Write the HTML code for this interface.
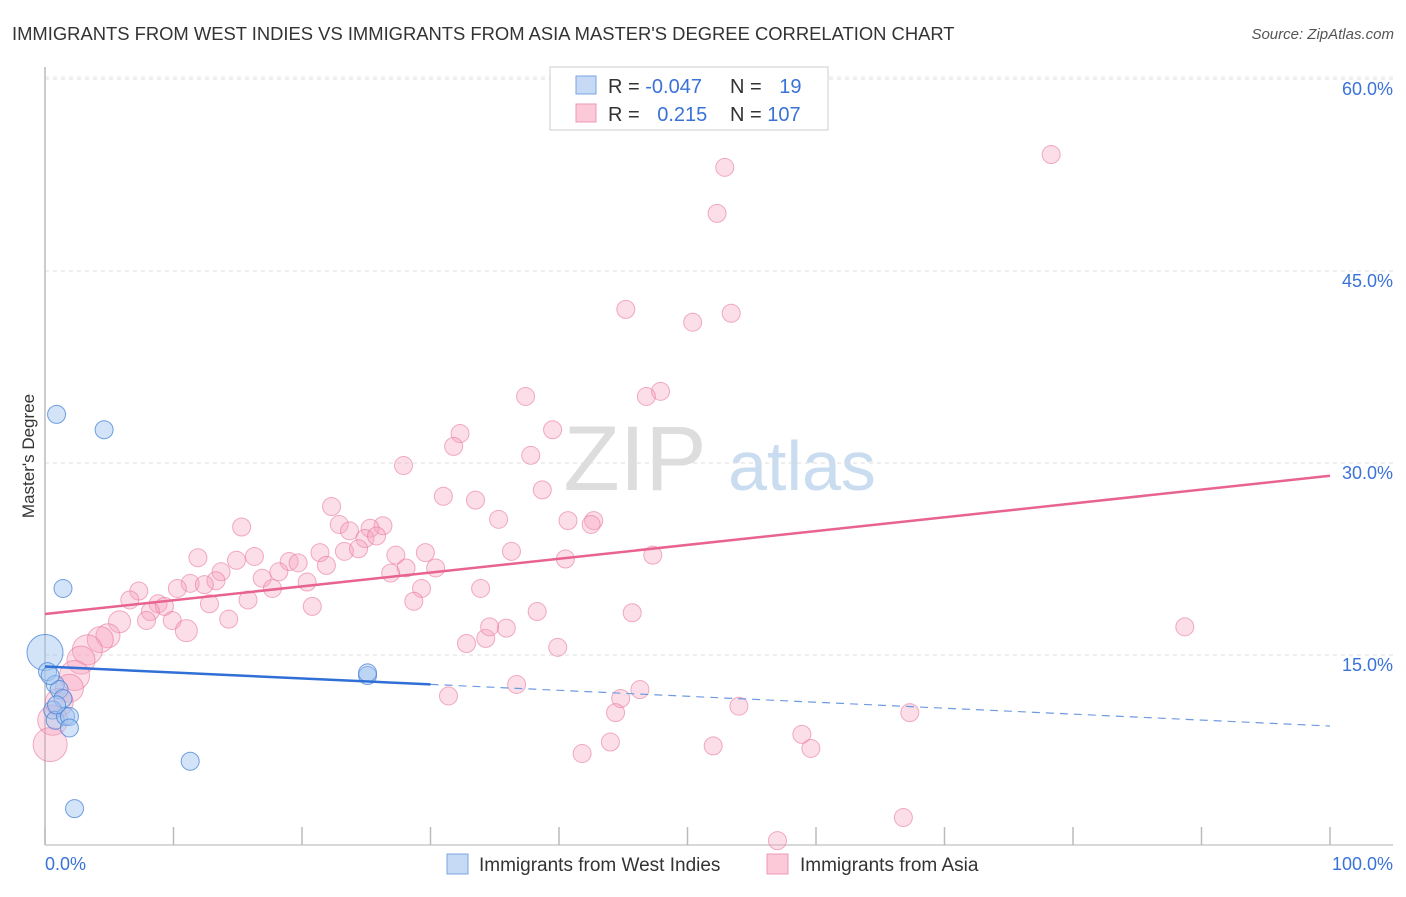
<!DOCTYPE html>
<html><head><meta charset="utf-8"><style>
body{margin:0;background:#fff;font-family:"Liberation Sans",sans-serif;}
svg text{font-family:"Liberation Sans",sans-serif;}
</style></head><body>
<svg width="1406" height="892" viewBox="0 0 1406 892" id="chart">
<text x="12" y="40" font-size="18.4" fill="#333">IMMIGRANTS FROM WEST INDIES VS IMMIGRANTS FROM ASIA MASTER'S DEGREE CORRELATION CHART</text>
<text x="1394" y="39" font-size="15" fill="#555" text-anchor="end" font-style="italic">Source: ZipAtlas.com</text>
<text x="34" y="456" font-size="17" fill="#333" text-anchor="middle" transform="rotate(-90 34 456)">Master's Degree</text>
<g><text x="635" y="490" font-size="92" fill="#ddd" font-family="Liberation Serif" text-anchor="middle">ZIP</text><text x="802" y="490" font-size="70" fill="#c9dcf0" text-anchor="middle">atlas</text></g>
<g id="grid"></g><g id="axes"></g><g id="pts"></g><g id="trend"></g>
<g>
<rect x="550" y="67" width="278" height="63" fill="#fff" stroke="#ccc"/>
<rect x="576" y="76" width="20" height="18" fill="#c6daf6" stroke="#7aa5e0"/>
<rect x="576" y="104" width="20" height="18" fill="#fbc9d8" stroke="#ef9ab5"/>
<text x="608" y="93" font-size="20" fill="#333">R = <tspan fill="#3a72d8">-0.047</tspan></text>
<text x="730" y="93" font-size="20" fill="#333">N = <tspan fill="#3a72d8" dx="12">19</tspan></text>
<text x="608" y="121" font-size="20" fill="#333">R = <tspan fill="#3a72d8" dx="12">0.215</tspan></text>
<text x="730" y="121" font-size="20" fill="#333">N = <tspan fill="#3a72d8">107</tspan></text>
</g>
<g>
<rect x="447" y="854" width="21" height="20" fill="#c6daf6" stroke="#7aa5e0"/>
<text x="479" y="871" font-size="19" fill="#333">Immigrants from West Indies</text>
<rect x="767" y="854" width="21" height="20" fill="#fbc9d8" stroke="#ef9ab5"/>
<text x="800" y="871" font-size="19" fill="#333">Immigrants from Asia</text>
</g>
</svg>
<script>
const yTicks=[15,30,45,60];
const yTickLabels=["15.0%","30.0%","45.0%","60.0%"];
const xTickLabels=["0.0%","100.0%"];
const asiaX=[78.3,52.9,52.3,45.2,50.4,53.4,47.9,46.8,37.4,32.3,31.8,39.5,37.8,27.9,38.7,31.0,33.5,22.3,35.3,40.7,42.7,42.5,15.3,22.9,23.7,26.3,25.3,24.9,25.8,36.3,40.5,47.3,11.9,14.9,16.3,21.4,23.3,24.4,27.3,29.6,19.0,19.7,28.1,30.4,13.7,18.2,26.9,21.9,16.9,17.7,13.3,11.3,12.4,10.3,7.3,6.6,8.8,9.3,12.8,15.8,20.4,29.3,28.7,33.9,20.8,38.3,45.7,8.2,7.9,14.3,9.9,5.8,11.0,4.9,4.3,3.3,2.8,2.3,1.9,1.1,0.6,0.4,32.8,34.3,35.9,34.6,39.9,36.7,44.8,46.3,31.4,44.4,54.0,67.3,44.0,52.0,58.9,59.6,41.8,88.7,66.8,57.0];
const asiaY=[54.1,53.1,49.5,42.0,41.0,41.7,35.6,35.2,35.2,32.3,31.3,32.6,30.6,29.8,27.9,27.4,27.1,26.6,25.6,25.5,25.5,25.2,25.0,25.2,24.7,25.1,24.9,24.1,24.3,23.1,22.5,22.8,22.6,22.4,22.7,23.0,23.1,23.3,22.8,23.0,22.3,22.2,21.8,21.8,21.5,21.5,21.4,22.0,21.0,20.2,20.8,20.6,20.5,20.2,20.0,19.3,19.0,18.8,19.0,19.3,20.7,20.2,19.2,20.2,18.8,18.4,18.3,18.4,17.7,17.8,17.7,17.6,16.9,16.5,16.2,15.4,14.6,13.4,12.4,11.3,9.9,8.0,15.9,16.3,17.1,17.2,15.6,12.7,11.6,12.3,11.8,10.5,11.0,10.5,8.2,7.9,8.8,7.7,7.3,17.2,2.3,0.5];
const asiaR=[9,9,9,9,9,9,9,9,9,9,9,9,9,9,9,9,9,9,9,9,9,9,9,9,9,9,9,9,9,9,9,9,9,9,9,9,9,9,9,9,9,9,9,9,9,9,9,9,9,9,9,9,9,9,9,9,9,9,9,9,9,9,9,9,9,9,9,9,9,9,9,11,11,12,13,15,14,15,14,14,15,17,9,9,9,9,9,9,9,9,9,9,9,9,9,9,9,9,9,9,9,9];
const wiX=[0.9,4.6,1.4,0,0.2,0.8,1.1,1.4,0.6,0.8,1.6,1.9,1.9,25.1,25.1,11.3,2.3,0.4,0.9];
const wiY=[33.8,32.6,20.2,15.2,13.7,12.7,12.3,11.6,10.7,9.9,10.2,10.2,9.3,13.4,13.6,6.7,3.0,13.4,11.1];
const wiR=[9,9,9,18,9,9,9,9,9,9,9,9,9,9,9,9,9,9,9];
const asiaTrend=[18.2,29.0];
const wiTrend=[14.1,9.45];
const wiSolidEnd=30;
const X0=45,X1=1330,Y0=847,YS=12.8;
const sx=v=>X0+v*(X1-X0)/100, sy=v=>Y0-v*YS;
const NS="http://www.w3.org/2000/svg";
function mk(t,a,p){const e=document.createElementNS(NS,t);for(const k in a)e.setAttribute(k,a[k]);document.getElementById(p).appendChild(e);return e;}
yTicks.forEach((t,i)=>{
 const g=mk('line',{x1:45,x2:1393,y1:sy(t),y2:sy(t),stroke:'#ddd','stroke-dasharray':'4,4'},'grid');
 
 
 const tx=mk('text',{x:1393,y:sy(t)+16,'font-size':18,fill:'#3a72d8','text-anchor':'end'},'grid');
 tx.textContent=yTickLabels[i];
 
 
});
const topGrid=mk('line',{x1:45,x2:1393,y1:sy(60)-2,y2:sy(60)-2,stroke:'#e6e6e6','stroke-dasharray':'4,4'},'grid');


const ax=mk('line',{x1:45,x2:45,y1:67,y2:845,stroke:'#bbb','stroke-width':1.5},'axes');


const bx=mk('line',{x1:45,x2:1393,y1:845,y2:845,stroke:'#ccc','stroke-width':1.5},'axes');


for(let i=0;i<=10;i++){
 const t=mk('line',{x1:sx(i*10),x2:sx(i*10),y1:827,y2:845,stroke:'#bbb','stroke-width':1.5},'axes');
 
 
}
const xl0=mk('text',{x:45,y:870,'font-size':18,fill:'#3a72d8'},'axes');xl0.textContent=xTickLabels[0];


const xl1=mk('text',{x:1393,y:870,'font-size':18,fill:'#3a72d8','text-anchor':'end'},'axes');xl1.textContent=xTickLabels[1];


asiaX.forEach((v,i)=>{
 const c=mk('circle',{cx:sx(v),cy:sy(asiaY[i]),r:asiaR[i]||9,fill:'rgba(246,160,188,0.35)',stroke:'rgba(232,120,160,0.6)','stroke-width':1},'pts');
 
 
});
wiX.forEach((v,i)=>{
 const c=mk('circle',{cx:sx(v),cy:sy(wiY[i]),r:wiR[i],fill:'rgba(160,195,240,0.45)',stroke:'rgba(70,130,215,0.75)','stroke-width':1},'pts');
 
 
});
const pl=mk('line',{x1:sx(0),y1:sy(asiaTrend[0]),x2:sx(100),y2:sy(asiaTrend[1]),stroke:'#e8638f','stroke-width':2.5},'trend');


const wy=x=>wiTrend[0]+(wiTrend[1]-wiTrend[0])*x/100;
const bl=mk('line',{x1:sx(0),y1:sy(wy(0)),x2:sx(wiSolidEnd),y2:sy(wy(wiSolidEnd)),stroke:'#2f6fd6','stroke-width':2.5},'trend');


const bd=mk('line',{x1:sx(wiSolidEnd),y1:sy(wy(wiSolidEnd)),x2:sx(100),y2:sy(wy(100)),stroke:'#6f9be0','stroke-width':1.2,'stroke-dasharray':'8,6'},'trend');


</script>
</body></html>
